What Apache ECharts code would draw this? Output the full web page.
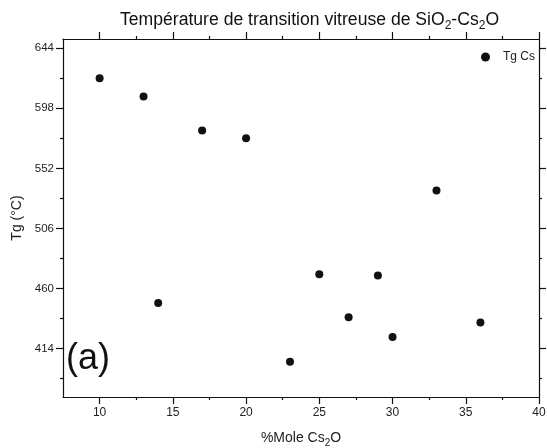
<!DOCTYPE html>
<html><head><meta charset="utf-8">
<script src="https://cdn.jsdelivr.net/npm/echarts@6/dist/echarts.min.js"></script>
<style>html,body{margin:0;padding:0;background:#fff}#c{width:547px;height:448px}</style>
</head><body><div id="c"></div>
<script>
var xValues = [10, 13, 17, 20, 14, 23, 25, 27, 29, 30, 33, 36];
var yValues = [621, 607, 581, 575, 449, 404, 471, 438, 470, 423, 535, 434];
var xMajorTicks = [10, 15, 20, 25, 30, 35, 40];
var xMinorTicks = [12.5, 17.5, 22.5, 27.5, 32.5, 37.5];
var yMajorTicks = [414, 460, 506, 552, 598, 644];
var yMinorTicks = [391, 437, 483, 529, 575, 621];
var seriesName = 'Tg Cs';

var FONT = '"Liberation Sans", Arial, sans-serif';
var X_MIN = 7.5, X_MAX = 40, Y_MIN = 377, Y_MAX = 651;
var lineStyle = {color: '#111', width: 1.2};

function xAxis(pos, ticks, len, showLabel, showLine) {
  return {
    type: 'value', position: pos, min: X_MIN, max: X_MAX, gridIndex: 0,
    axisLine: {show: showLine, onZero: false, lineStyle: lineStyle},
    axisTick: {show: true, inside: false, length: len, customValues: ticks, lineStyle: lineStyle},
    axisLabel: {show: showLabel, customValues: ticks, fontFamily: FONT, fontSize: 12, color: '#222', margin: 10},
    splitLine: {show: false}
  };
}
function yAxis(pos, ticks, len, showLabel, showLine) {
  return {
    type: 'value', position: pos, min: Y_MIN, max: Y_MAX, gridIndex: 0,
    axisLine: {show: showLine, onZero: false, lineStyle: lineStyle},
    axisTick: {show: true, inside: false, length: len, customValues: ticks, lineStyle: lineStyle},
    axisLabel: {show: showLabel, customValues: ticks, fontFamily: FONT, fontSize: 11.5, color: '#222', margin: 9},
    splitLine: {show: false}
  };
}

var xs = [
  xAxis('bottom', xMajorTicks, 7, true, true),
  xAxis('bottom', xMinorTicks, 3, false, false),
  xAxis('top', xMajorTicks, 7, false, true),
  xAxis('top', xMinorTicks, 3, false, false)
];
xs[0].name = '%Mole Cs{sub|2}O';
xs[0].nameLocation = 'middle';
xs[0].nameGap = 32;
xs[0].nameTextStyle = {fontFamily: FONT, fontSize: 14, color: '#222',
  rich: {sub: {fontFamily: FONT, fontSize: 10, color: '#222', padding: [9, 0, 0, 0]}}};

var ys = [
  yAxis('left', yMajorTicks, 7, true, true),
  yAxis('left', yMinorTicks, 3, false, false),
  yAxis('right', yMajorTicks, 7, false, true),
  yAxis('right', yMinorTicks, 3, false, false)
];
ys[0].name = 'Tg (°C)';
ys[0].nameLocation = 'middle';
ys[0].nameGap = 39;
ys[0].nameTextStyle = {fontFamily: FONT, fontSize: 14, color: '#222'};

var chart = echarts.init(document.getElementById('c'), null, {renderer: 'canvas'});
chart.setOption({
  animation: false,
  backgroundColor: '#fff',
  title: {
    text: 'Température de transition vitreuse de SiO{sub|2}-Cs{sub|2}O',
    left: 115, top: 3,
    textStyle: {fontFamily: FONT, fontSize: 17.6, fontWeight: 'normal', color: '#111',
      rich: {sub: {fontFamily: FONT, fontSize: 12, color: '#111', padding: [12, 0, 0, 0]}}}
  },
  legend: {
    left: 476, top: 46, itemWidth: 9, itemHeight: 9, icon: 'circle',
    data: [seriesName],
    textStyle: {fontFamily: FONT, fontSize: 12, color: '#222', padding: [0, 0, 0, 8]}
  },
  grid: {left: 63, right: 8, top: 39, bottom: 51, containLabel: false, outerBoundsMode: 'none'},
  xAxis: xs,
  yAxis: ys,
  graphic: [{
    type: 'text', left: 66, top: 341, z: 10,
    style: {text: '(a)', fontFamily: FONT, fontSize: 36, fill: '#111'}
  }],
  series: [{
    name: seriesName, type: 'scatter', xAxisIndex: 0, yAxisIndex: 0,
    symbol: 'circle', symbolSize: 8,
    itemStyle: {color: '#111', opacity: 1},
    data: xValues.map(function (x, i) { return [x, yValues[i]]; })
  }]
});
</script></body></html>
